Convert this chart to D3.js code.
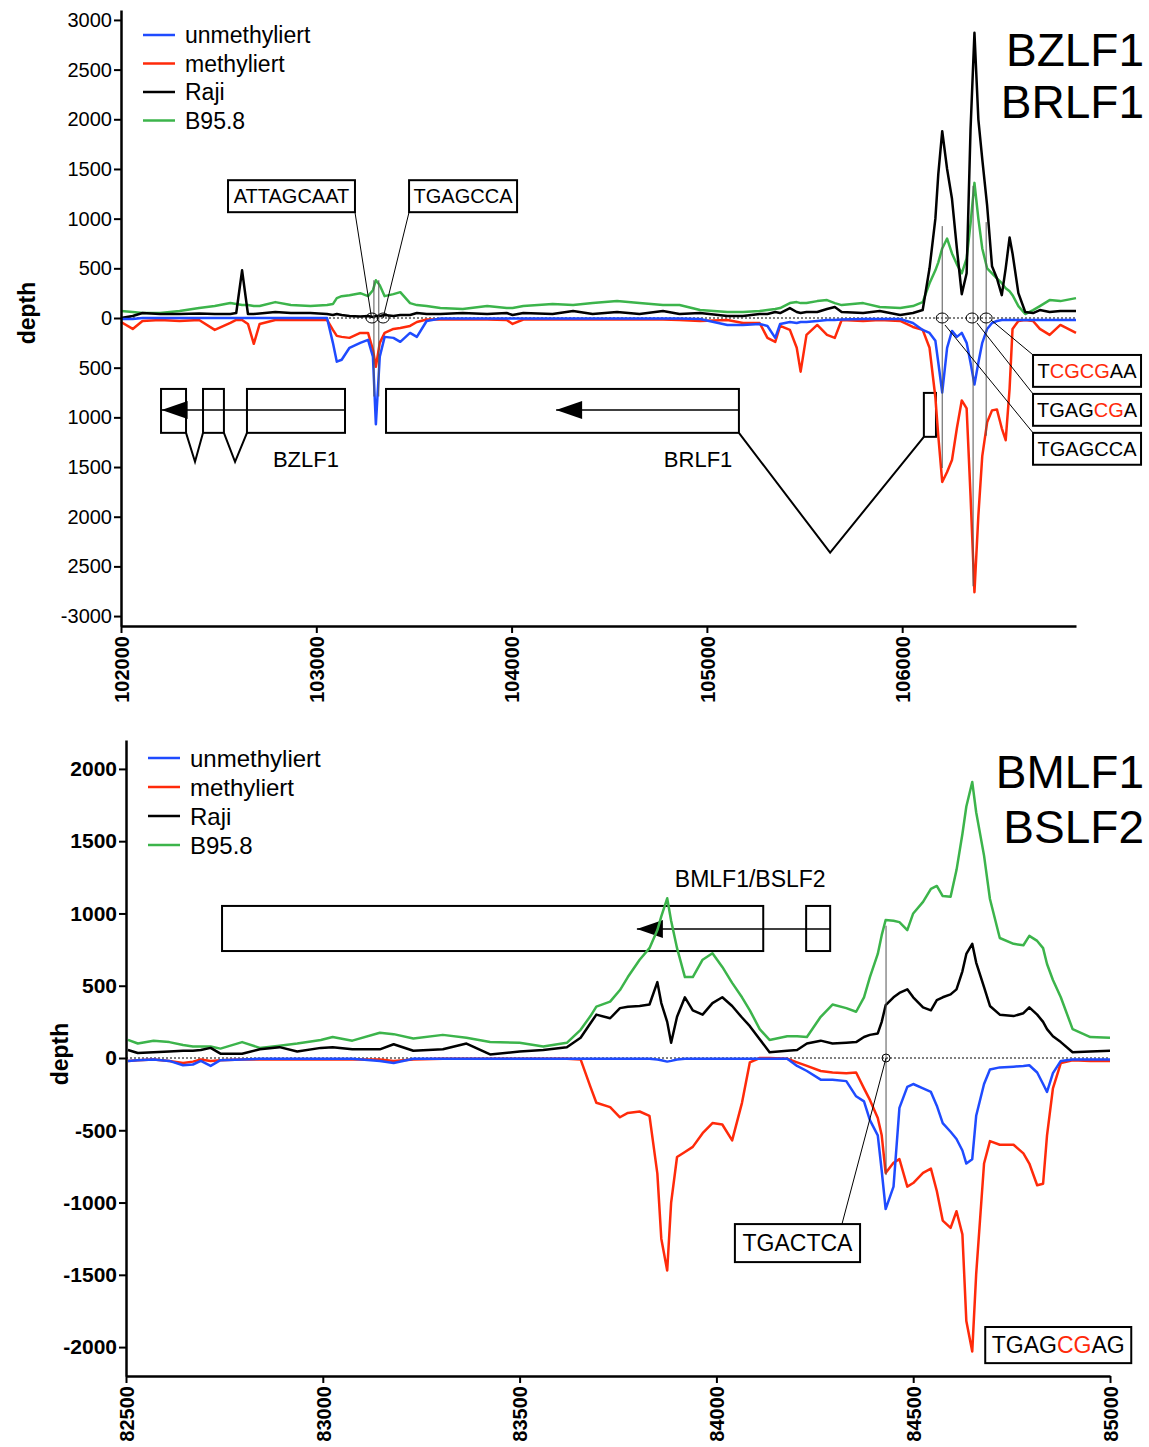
<!DOCTYPE html>
<html>
<head>
<meta charset="utf-8">
<script src="https://cdn.jsdelivr.net/npm/d3@7"></script>
<style>
  body { margin: 0; background: #fff; }
  svg text { font-family: "Liberation Sans", Arial, sans-serif; }
</style>
</head>
<body>
<svg id="chart"></svg>
<script>
const seriesNames = ["unmethyliert", "methyliert", "Raji", "B95.8"];
const seriesColors = ["#1f4bff", "#ff2a0a", "#000000", "#3cb44b"];

// upper panel: BZLF1 / BRLF1 region
const topPos = [102000, 102060, 102110, 102200, 102300, 102400, 102480, 102560, 102590, 102620,
  102650, 102680, 102710, 102790, 102870, 102970, 103055, 103085, 103105, 103130,
  103170, 103225, 103265, 103290, 103305, 103325, 103350, 103395, 103430, 103480,
  103515, 103565, 103635, 103750, 103875, 103975, 104005, 104060, 104210, 104315,
  104415, 104540, 104655, 104775, 104860, 104965, 105105, 105185, 105270, 105310,
  105350, 105375, 105425, 105460, 105480, 105510, 105565, 105615, 105655, 105690,
  105800, 105885, 105990, 106055, 106105, 106140, 106170, 106185, 106205, 106230,
  106255, 106280, 106305, 106330, 106350, 106370, 106390, 106410, 106435, 106460,
  106485, 106510, 106530, 106550, 106565, 106595, 106630, 106670, 106705, 106755,
  106810, 106890];
const topUnmeth = [-10, -10, 0, 0, 0, 0, 0, 0, 0, 0,
  0, 0, 0, 0, 0, 0, 0, -250, -440, -420,
  -300, -250, -220, -390, -1070, -390, -190, -200, -240, -150,
  -190, -30, -5, -5, -5, -5, -5, -5, -5, -5,
  -5, -5, -5, -5, -5, -10, -70, -70, -60, -80,
  -200, -60, -40, -50, -40, -40, -30, -20, -20, -15,
  -10, -10, -10, -50, -120, -150, -230, -450, -750, -300,
  -130, -190, -150, -250, -450, -670, -450, -250, -110, -50,
  -30, -20, -20, -20, -20, -20, -20, -20, -20, -20,
  -20, -20];
const topMeth = [-40, -110, -30, -20, -30, -20, -120, -50, -20, -20,
  -60, -260, -60, -20, -20, -20, -20, -120, -180, -190,
  -200, -150, -150, -320, -490, -250, -150, -110, -100, -80,
  -40, -15, -15, -15, -15, -20, -60, -15, -15, -15,
  -15, -15, -15, -15, -20, -30, -20, -50, -50, -200,
  -240, -80, -120, -300, -540, -170, -70, -170, -200, -20,
  -30, -20, -30, -90, -120, -300, -800, -1190, -1650, -1550,
  -1430, -1110, -830, -910, -1790, -2760, -1990, -1390, -1050, -930,
  -920, -1110, -1230, -710, -110, -30, -20, -30, -110, -170,
  -70, -150];
const topRaji = [0, 20, 50, 40, 40, 45, 40, 40, 50, 480,
  40, 40, 45, 60, 50, 50, 40, 30, 40, 30,
  20, 15, 20, 10, 20, 20, 30, 20, 30, 30,
  50, 40, 40, 50, 40, 50, 30, 50, 40, 70,
  40, 60, 40, 70, 40, 50, 20, 20, 40, 40,
  60, 50, 100, 60, 50, 60, 60, 90, 110, 60,
  50, 70, 30, 50, 80, 500, 1000, 1450, 1880, 1500,
  1200, 700, 240, 450, 1900, 2870, 2000, 1600, 1130, 520,
  400, 230, 500, 810, 650, 250, 60, 50, 80, 60,
  70, 70];
const topB958 = [70, 60, 50, 50, 70, 100, 120, 150, 140, 130,
  130, 120, 120, 160, 130, 120, 130, 140, 200, 220,
  230, 250, 220, 280, 380, 330, 220, 240, 260, 150,
  130, 120, 100, 90, 120, 100, 100, 120, 140, 130,
  150, 170, 150, 130, 130, 80, 60, 60, 70, 80,
  90, 100, 150, 160, 150, 150, 170, 180, 150, 130,
  150, 110, 100, 120, 160, 350, 480, 560, 700, 800,
  650, 540, 450, 600, 950, 1360, 1000, 700, 500, 450,
  400, 350, 300, 270, 230, 120, 40, 80, 120, 180,
  170, 200];

const topXTicks = [102000, 103000, 104000, 105000, 106000];
const topYTicks = [3000, 2500, 2000, 1500, 1000, 500, 0, -500, -1000, -1500, -2000, -2500, -3000];
const topYTickLabels = ["3000", "2500", "2000", "1500", "1000", "500", "0", "500", "1000", "1500", "2000", "2500", "-3000"];

// lower panel: BMLF1 / BSLF2 region
const botPos = [82505, 82530, 82570, 82610, 82645, 82670, 82690, 82715, 82740, 82795,
  82840, 82890, 82935, 82995, 83025, 83075, 83145, 83180, 83230, 83305,
  83365, 83425, 83500, 83560, 83620, 83655, 83680, 83695, 83730, 83755,
  83775, 83805, 83830, 83850, 83860, 83875, 83885, 83900, 83920, 83940,
  83965, 83990, 84015, 84040, 84065, 84085, 84110, 84135, 84180, 84205,
  84230, 84265, 84295, 84330, 84355, 84375, 84390, 84410, 84420, 84430,
  84450, 84465, 84485, 84500, 84525, 84545, 84560, 84575, 84595, 84610,
  84625, 84635, 84650, 84660, 84680, 84695, 84720, 84755, 84780, 84795,
  84815, 84830, 84840, 84855, 84875, 84905, 84950, 85000];
const botUnmeth = [-20, -15, -10, -20, -50, -45, -20, -55, -15, -10,
  -5, -5, -5, -5, -5, -5, -20, -35, -5, -5,
  -5, -5, -5, -5, -5, -5, -5, -5, -5, -5,
  -5, -5, -5, -10, -15, -25, -20, -10, -5, -5,
  -5, -5, -5, -5, -5, -5, -5, -5, -5, -55,
  -90, -150, -150, -160, -265, -300, -430, -535, -780, -1045,
  -890, -345, -200, -180, -210, -235, -330, -450, -510, -560,
  -640, -730, -700, -400, -180, -80, -65, -60, -55, -50,
  -100, -180, -235, -105, -20, -10, -10, -10];
const botMeth = [-20, -15, -10, -20, -35, -25, -10, -20, -15, -10,
  -10, -10, -10, -10, -10, -10, -10, -20, -10, -5,
  -5, -5, -5, -5, -5, -10, -200, -310, -340, -410,
  -380, -370, -400, -800, -1250, -1470, -1000, -685, -650, -615,
  -520, -450, -460, -570, -310, -30, 0, 0, -5, -30,
  -55, -90, -100, -105, -100, -210, -290, -415, -535, -795,
  -725, -700, -890, -865, -795, -765, -920, -1125, -1175, -1060,
  -1220, -1820, -2030, -1495, -730, -575, -600, -600, -660, -730,
  -880, -870, -535, -210, -35, -15, -20, -20];
const botRaji = [55, 35, 40, 45, 50, 50, 55, 70, 30, 30,
  60, 75, 45, 70, 75, 60, 60, 95, 50, 60,
  100, 25, 45, 55, 75, 140, 240, 300, 275, 345,
  355, 360, 370, 525, 380, 250, 105, 285, 420, 330,
  300, 380, 420, 360, 280, 220, 130, 40, 50, 55,
  100, 120, 100, 105, 110, 145, 160, 170, 250, 365,
  420, 450, 475, 420, 350, 330, 400, 420, 440, 475,
  600, 720, 790, 660, 490, 360, 300, 290, 310, 350,
  300, 250, 200, 150, 110, 40, 45, 50];
const botB958 = [125, 100, 120, 110, 90, 80, 80, 80, 65, 110,
  70, 85, 100, 125, 145, 120, 175, 165, 135, 160,
  140, 110, 105, 80, 105, 195, 290, 355, 390, 470,
  560, 680, 760, 885, 980, 1105, 950, 760, 560, 560,
  680, 725, 630, 520, 420, 330, 200, 125, 150, 150,
  145, 285, 370, 345, 320, 420, 560, 720, 850, 955,
  950, 940, 885, 1000, 1080, 1170, 1190, 1120, 1115, 1300,
  1550, 1740, 1910, 1700, 1400, 1100, 830, 790, 780, 845,
  810, 760, 650, 540, 420, 200, 145, 140];

const botXTicks = [82500, 83000, 83500, 84000, 84500, 85000];
const botYTicks = [2000, 1500, 1000, 500, 0, -500, -1000, -1500, -2000];

const svg = d3.select("#chart").attr("width", 1149).attr("height", 1447);

function drawPanel(p) {
    const x = d3.scaleLinear().domain(p.xDomain).range(p.xRange);
    const y = d3.scaleLinear().domain(p.yDomain).range(p.yRange);
    const g = svg.append("g");

    // dotted zero line
    g.append("line")
        .attr("x1", x(p.xDomain[0])).attr("x2", x(p.xDomain[1]))
        .attr("y1", y(0)).attr("y2", y(0))
        .attr("stroke", "#000").attr("stroke-width", 1).attr("stroke-dasharray", "2,2");

    // gene models
    p.genes.boxes.forEach(b => {
        g.append("rect")
            .attr("x", x(b[0])).attr("y", y(b[2]))
            .attr("width", x(b[1]) - x(b[0])).attr("height", y(b[3]) - y(b[2]))
            .attr("fill", "none").attr("stroke", "#000").attr("stroke-width", 2);
    });
    p.genes.introns.forEach(pts => {
        g.append("path")
            .attr("d", d3.line().x(d => x(d[0])).y(d => y(d[1]))(pts))
            .attr("fill", "none").attr("stroke", "#000").attr("stroke-width", 2);
    });
    p.genes.arrows.forEach(a => {
        const tip = x(a[0]), ay = y(a[2]);
        g.append("line").attr("x1", tip).attr("x2", x(a[1])).attr("y1", ay).attr("y2", ay)
            .attr("stroke", "#000").attr("stroke-width", 1.5);
        g.append("path")
            .attr("d", `M${tip},${ay} L${tip + 26},${ay - 9} L${tip + 26},${ay + 9} Z`)
            .attr("fill", "#000");
    });
    p.genes.labels.forEach(l => {
        g.append("text").attr("x", x(l[1])).attr("y", y(l[2]))
            .attr("text-anchor", "middle").attr("font-size", l[3]).text(l[0]);
    });

    // data series (drawn green, red, black, blue)
    const series = [p.unmeth, p.meth, p.raji, p.b958];
    const line = d3.line().x((d, i) => x(p.pos[i])).y(d => y(d));
    [3, 1, 2, 0].forEach(k => {
        g.append("path")
            .datum(series[k])
            .attr("d", line)
            .attr("fill", "none")
            .attr("stroke", seriesColors[k])
            .attr("stroke-width", 2.5)
            .attr("stroke-linejoin", "round");
    });

    // guide lines, markers and sequence boxes
    p.guides.forEach(v => {
        g.append("line").attr("x1", x(v[0])).attr("x2", x(v[0]))
            .attr("y1", y(v[1])).attr("y2", y(v[2]))
            .attr("stroke", "#555").attr("stroke-width", 1);
    });
    p.leaders.forEach(l => {
        g.append("line").attr("x1", x(l[0])).attr("y1", y(l[1]))
            .attr("x2", x(l[2])).attr("y2", y(l[3]))
            .attr("stroke", "#000").attr("stroke-width", 1);
    });
    p.marks.forEach(m => {
        g.append("ellipse").attr("cx", x(m)).attr("cy", y(0))
            .attr("rx", p.markR[0]).attr("ry", p.markR[1])
            .attr("fill", "none").attr("stroke", "#000").attr("stroke-width", 1);
    });
    p.seqBoxes.forEach(b => {
        g.append("rect").attr("x", x(b.x0)).attr("y", y(b.y0))
            .attr("width", x(b.x1) - x(b.x0)).attr("height", y(b.y1) - y(b.y0))
            .attr("fill", "#fff").attr("stroke", "#000").attr("stroke-width", 2);
        const t = g.append("text")
            .attr("x", (x(b.x0) + x(b.x1)) / 2).attr("y", (y(b.y0) + y(b.y1)) / 2)
            .attr("dy", "0.36em").attr("text-anchor", "middle").attr("font-size", b.size);
        b.parts.forEach(part => t.append("tspan").attr("fill", part[1]).text(part[0]));
    });

    // axes
    const yAxis = d3.axisLeft(y).tickValues(p.yTicks)
        .tickFormat((d, i) => p.yTickLabels[i]).tickSize(7).tickSizeOuter(0).tickPadding(2);
    const ya = g.append("g").attr("transform", `translate(${p.xRange[0]},0)`).call(yAxis);
    ya.selectAll("text").attr("font-size", p.yFont).attr("font-weight", p.yWeight)
        .attr("fill", "#000").style("font-family", "Liberation Sans, Arial, sans-serif");

    const xAxis = d3.axisBottom(x).tickValues(p.xTicks).tickFormat(d => String(d))
        .tickSize(7).tickSizeOuter(0);
    const xa = g.append("g").attr("transform", `translate(0,${p.yRange[0]})`).call(xAxis);
    xa.selectAll("text")
        .attr("transform", "rotate(-90)")
        .attr("text-anchor", "end")
        .attr("x", -10).attr("y", 0).attr("dy", "0.36em")
        .attr("font-size", 20).attr("font-weight", "bold").attr("fill", "#000")
        .style("font-family", "Liberation Sans, Arial, sans-serif");
    [ya, xa].forEach(a => {
        a.select(".domain").attr("stroke-width", 2.5);
        a.selectAll(".tick line").attr("stroke-width", 2);
    });

    // y label
    g.append("text")
        .attr("transform", `translate(${p.depthPos[0]},${p.depthPos[1]}) rotate(-90)`)
        .attr("text-anchor", "middle").attr("dy", "0.36em")
        .attr("font-size", 23).attr("font-weight", "bold").text("depth");

    // legend
    seriesNames.forEach((name, i) => {
        const ly = p.legend.y + i * p.legend.step;
        g.append("line").attr("x1", p.legend.x).attr("x2", p.legend.x + 32)
            .attr("y1", ly).attr("y2", ly)
            .attr("stroke", seriesColors[i]).attr("stroke-width", 2.5);
        g.append("text").attr("x", p.legend.x + 42).attr("y", ly).attr("dy", "0.36em")
            .attr("font-size", p.legend.font).text(name);
    });

    // title
    p.title.forEach((t, i) => {
        g.append("text").attr("x", 1144).attr("y", p.titleY[i])
            .attr("text-anchor", "end").attr("font-size", 46).text(t);
    });
}

drawPanel({
    pos: topPos, unmeth: topUnmeth, meth: topMeth, raji: topRaji, b958: topB958,
    xDomain: [102000, 106890], xRange: [121, 1076],
    yDomain: [-3100, 3100], yRange: [626, 10],
    xTicks: topXTicks, yTicks: topYTicks, yTickLabels: topYTickLabels,
    yFont: 20, yWeight: "normal",
    depthPos: [27, 313],
    legend: { x: 143, y: 35, step: 28.5, font: 23 },
    title: ["BZLF1", "BRLF1"], titleY: [66, 118],
    genes: {
        boxes: [[102205, 102333, -714, -1156], [102420, 102527, -714, -1156], [102645, 103147, -714, -1156],
            [103357, 105164, -714, -1156], [106111, 106173, -754, -1196]],
        introns: [[[102333, -1156], [102379, -1447], [102420, -1156]],
            [[102527, -1156], [102584, -1447], [102645, -1156]],
            [[105164, -1156], [105631, -2362], [106111, -1196]]],
        arrows: [[102208, 103147, -925], [104228, 105164, -925]],
        labels: [["BZLF1", 102947, -1497, 22], ["BRLF1", 104955, -1497, 22]]
    },
    guides: [[103295, 380, -790], [103320, 380, -790], [106205, 925, -1510],
        [106363, 1330, -2700], [106430, 965, -1185]],
    leaders: [[103198, 1065, 103283, 0], [103475, 1065, 103342, 0],
        [106455, -20, 106670, -372], [106383, -50, 106670, -764], [106219, -70, 106670, -1156]],
    marks: [103285, 103342, 106205, 106358, 106430], markR: [6, 5],
    seqBoxes: [
        { x0: 102548, x1: 103198, y0: 1387, y1: 1065, size: 20, parts: [["ATTAGCAAT", "#000"]] },
        { x0: 103475, x1: 104028, y0: 1387, y1: 1065, size: 20, parts: [["TGAGCCA", "#000"]] },
        { x0: 106670, x1: 107223, y0: -372, y1: -693, size: 20, parts: [["T", "#000"], ["CGCG", "#ff2a0a"], ["AA", "#000"]] },
        { x0: 106670, x1: 107223, y0: -764, y1: -1085, size: 20, parts: [["TGAG", "#000"], ["CG", "#ff2a0a"], ["A", "#000"]] },
        { x0: 106670, x1: 107223, y0: -1156, y1: -1477, size: 20, parts: [["TGAGCCA", "#000"]] }
    ]
});

drawPanel({
    pos: botPos, unmeth: botUnmeth, meth: botMeth, raji: botRaji, b958: botB958,
    xDomain: [82500, 85000], xRange: [126, 1110],
    yDomain: [-2200, 2200], yRange: [1376, 740],
    xTicks: botXTicks, yTicks: botYTicks, yTickLabels: botYTicks.map(String),
    yFont: 21, yWeight: "bold",
    depthPos: [60, 1054],
    legend: { x: 148, y: 758, step: 29, font: 24 },
    title: ["BMLF1", "BSLF2"], titleY: [788, 843],
    genes: {
        boxes: [[82744, 84119, 1052, 740], [84228, 84289, 1052, 740]],
        introns: [],
        arrows: [[83798, 84289, 893]],
        labels: [["BMLF1/BSLF2", 84086, 1183, 23]]
    },
    guides: [[84431, 915, -810]],
    leaders: [[84431, 0, 84319, -1149]],
    marks: [84431], markR: [4, 4],
    seqBoxes: [
        { x0: 84047, x1: 84365, y0: -1149, y1: -1412, size: 23, parts: [["TGACTCA", "#000"]] },
        { x0: 84683, x1: 85054, y0: -1861, y1: -2111, size: 23, parts: [["TGAG", "#000"], ["CG", "#ff2a0a"], ["AG", "#000"]] }
    ]
});
</script>
</body>
</html>
